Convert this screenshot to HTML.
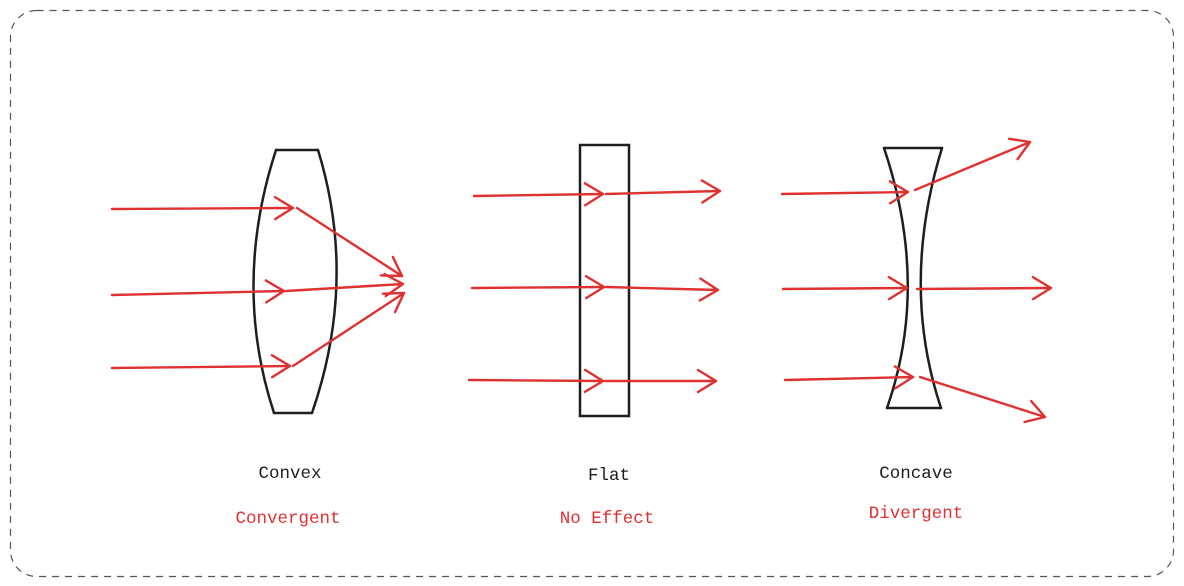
<!DOCTYPE html>
<html><head><meta charset="utf-8"><style>
html,body{margin:0;padding:0;background:#fff;}
svg{display:block;}
text{font-family:"Liberation Mono",monospace;font-size:17.5px;}
</style></head><body>
<svg width="1184" height="586" viewBox="0 0 1184 586" xmlns="http://www.w3.org/2000/svg">
<defs>
<marker id="a" markerUnits="userSpaceOnUse" markerWidth="40" markerHeight="40" refX="20" refY="20" orient="auto">
<path d="M2,9 L20,20 L2,31" fill="none" stroke="#e03131" stroke-width="2.4" stroke-linecap="round" stroke-linejoin="round"/>
</marker>
</defs>
<rect x="10.5" y="10.5" width="1163" height="566" rx="26" fill="none" stroke="#555" stroke-width="1.2" stroke-dasharray="7 6"/>

<!-- convex lens -->
<g fill="none" stroke="#1e1e1e" stroke-width="2.5" stroke-linecap="round">
<path d="M276,150 L318,150"/>
<path d="M274,413 L312,413"/>
<path d="M276,150 Q232,285 274,413"/>
<path d="M318,150 Q358,280 312,413"/>
</g>
<g fill="none" stroke="#e03131" stroke-width="2.4" stroke-linecap="round" marker-end="url(#a)">
<path d="M112,209 L293,208"/>
<path d="M112,295 L284,291"/>
<path d="M112,368 L290,366"/>
<path d="M297,208 L402,276"/>
<path d="M286,291 L403,284"/>
<path d="M293,366 L404,293"/>
</g>

<!-- flat -->
<rect x="580" y="145" width="49" height="271" fill="none" stroke="#1e1e1e" stroke-width="2.5"/>
<g fill="none" stroke="#e03131" stroke-width="2.4" stroke-linecap="round" marker-end="url(#a)">
<path d="M474,196 L603,194"/>
<path d="M606,194 L720,191"/>
<path d="M472,288 L604,287"/>
<path d="M606,287 L718,290"/>
<path d="M469,380 L603,381"/>
<path d="M605,381 L716,381"/>
</g>

<!-- concave -->
<g fill="none" stroke="#1e1e1e" stroke-width="2.5" stroke-linecap="round">
<path d="M884,148 L942,148"/>
<path d="M887,408 L941,408"/>
<path d="M884,148 Q930,285 887,408"/>
<path d="M942,148 Q900,285 941,408"/>
</g>
<g fill="none" stroke="#e03131" stroke-width="2.4" stroke-linecap="round" marker-end="url(#a)">
<path d="M782,194 L908,192"/>
<path d="M915,190 L1030,142"/>
<path d="M783,289 L907,288"/>
<path d="M917,289 L1051,288"/>
<path d="M785,380 L913,377"/>
<path d="M920,377 L1045,417"/>
</g>

<text x="290" y="478" text-anchor="middle" fill="#1e1e1e">Convex</text>
<text x="288" y="523" text-anchor="middle" fill="#e03131">Convergent</text>
<text x="609" y="480" text-anchor="middle" fill="#1e1e1e">Flat</text>
<text x="607" y="523" text-anchor="middle" fill="#e03131">No Effect</text>
<text x="916" y="478" text-anchor="middle" fill="#1e1e1e">Concave</text>
<text x="916" y="518" text-anchor="middle" fill="#e03131">Divergent</text>
</svg>
</body></html>
